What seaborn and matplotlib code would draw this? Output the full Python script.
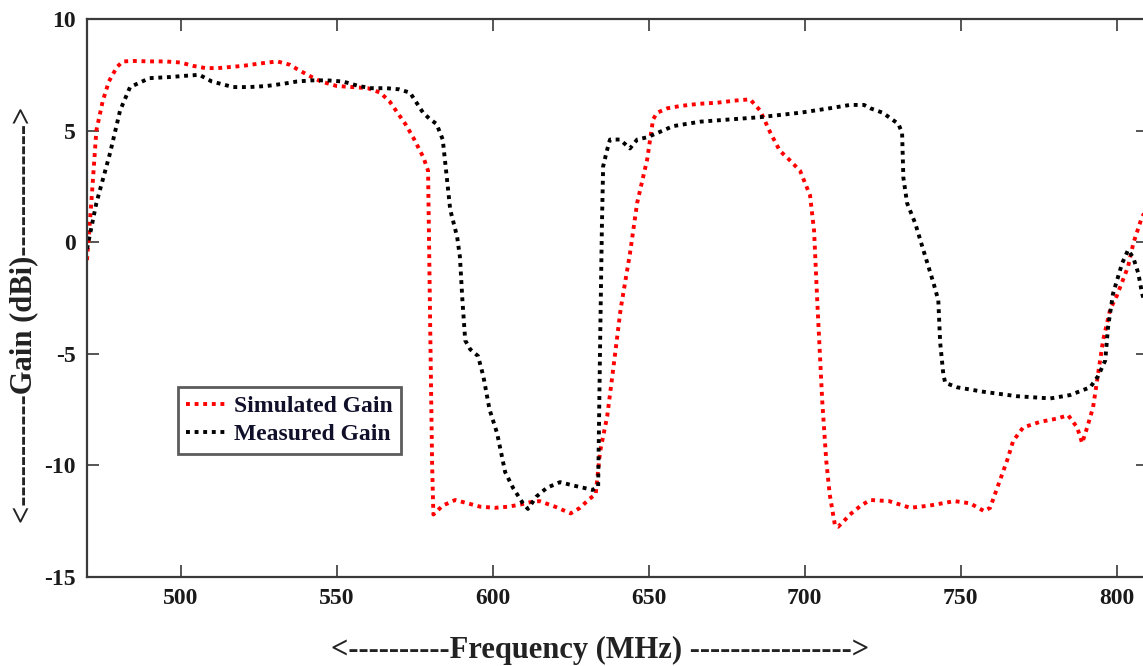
import numpy as np
import pandas as pd
import matplotlib
matplotlib.use("Agg")
import matplotlib.pyplot as plt
import seaborn as sns

# Simulated gain (dBi) versus frequency (MHz)
sim_freq = [470, 471.5, 473, 475, 477, 479.6, 481.5, 485, 490, 495, 500, 504, 508, 512,
            516, 520, 525, 531, 535, 538, 542, 545, 550, 555, 560, 564, 567, 569, 572,
            574.5, 577.8, 579.3, 580, 580.6, 581, 584, 588, 592, 596, 600.8, 605, 609,
            612, 615, 620, 625, 628, 631, 633, 634.4, 636.7, 638.7, 641, 644, 646.3,
            649.5, 651.4, 652.7, 656, 660, 666, 672, 678, 682.5, 685.7, 689, 692, 695,
            698.5, 701.7, 703, 704, 705.6, 706.9, 708, 709.7, 710.7, 712.5, 714.5, 718,
            721, 727, 733.8, 740, 748, 753, 757.5, 759.4, 761.7, 764.9, 766.8, 770,
            775.4, 780.9, 784.4, 787.3, 788.9, 790.5, 792.4, 794, 795.6, 797.9, 800,
            803.6, 805.3, 808, 810]
sim_gain = [-0.8, 2.0, 5.0, 6.3, 7.2, 7.85, 8.1, 8.12, 8.1, 8.1, 8.05, 7.9, 7.8, 7.8,
            7.85, 7.9, 8.0, 8.1, 7.95, 7.7, 7.4, 7.2, 7.0, 6.95, 6.9, 6.7, 6.3, 5.9, 5.3,
            4.7, 3.8, 3.2, -4.0, -10.0, -12.2, -11.8, -11.55, -11.7, -11.85, -11.9,
            -11.85, -11.75, -11.65, -11.6, -11.85, -12.15, -11.9, -11.5, -11.3, -9.4,
            -7.8, -5.6, -3.0, -0.5, 1.76, 3.7, 5.5, 5.8, 6.0, 6.1, 6.2, 6.25, 6.35, 6.4,
            5.9, 4.9, 4.1, 3.7, 3.2, 2.1, 0.5, -2.6, -7.1, -9.8, -11.3, -12.7, -12.75,
            -12.5, -12.2, -11.8, -11.55, -11.6, -11.9, -11.8, -11.6, -11.7, -12.05,
            -11.9, -11.0, -9.76, -8.9, -8.3, -8.05, -7.9, -7.75, -8.3, -9.0, -8.3, -7.4,
            -5.9, -4.4, -3.0, -2.4, -1.1, -0.05, 1.1, 1.6]

# Measured gain (dBi) versus frequency (MHz)
meas_freq = [470, 473, 477.4, 480.6, 483.8, 490, 496.6, 501, 506, 510, 516.8, 522, 527.7,
             533, 537.3, 542, 547, 552, 557, 561, 566, 570, 573.5, 577.7, 580, 582, 584,
             585.3, 586.4, 588.6, 589.5, 590.3, 591.2, 592.8, 595.3, 597, 599, 601.4, 604,
             606.5, 609.7, 611.3, 614, 617.4, 621.6, 625.8, 629, 632, 633.8, 634.4, 635,
             635.4, 636.6, 637.6, 640.8, 644, 646.3, 649.5, 653.7, 657.8, 666.5, 676,
             685.7, 692, 698.5, 708, 714.5, 719, 721, 725, 730, 731.2, 731.6, 732.8,
             735.4, 738, 741.2, 742.8, 743.4, 744.4, 745, 748.8, 757.2, 768, 778.7, 785,
             791.5, 794, 796.3, 797.2, 798.8, 801.7, 803.6, 805.3, 806.9, 808.1, 810]
meas_gain = [-0.3, 1.75, 4.0, 5.9, 6.95, 7.35, 7.4, 7.45, 7.5, 7.2, 6.95, 6.95, 7.0, 7.1,
             7.2, 7.25, 7.25, 7.2, 7.0, 6.9, 6.9, 6.85, 6.7, 5.8, 5.5, 5.3, 4.6, 2.9,
             1.45, 0.25, -0.65, -2.6, -4.4, -4.8, -5.1, -6.0, -7.5, -8.55, -10.3, -11.0,
             -11.7, -11.95, -11.4, -11.0, -10.75, -10.9, -11.0, -11.1, -10.95, -4.8, 0.7,
             3.4, 4.1, 4.6, 4.6, 4.2, 4.6, 4.7, 4.95, 5.2, 5.4, 5.5, 5.6, 5.7, 5.8, 6.0,
             6.15, 6.15, 6.0, 5.8, 5.3, 4.9, 2.9, 1.75, 0.85, -0.35, -1.8, -2.6, -4.5,
             -5.9, -6.3, -6.5, -6.7, -6.9, -7.0, -6.85, -6.5, -6.0, -5.3, -3.8, -2.3,
             -0.95, -0.35, -0.7, -1.4, -2.3, -3.2]

series_names = ["Simulated Gain", "Measured Gain"]
series_colors = ["#ff0000", "#000000"]

x_ticks = [500, 550, 600, 650, 700, 750, 800]
y_ticks = [-15, -10, -5, 0, 5, 10]

sns.set_theme(style="white")
plt.rcParams["font.family"] = ["Liberation Serif", "DejaVu Serif"]
plt.rcParams["font.weight"] = "bold"
plt.rcParams["lines.scale_dashes"] = False

fig = plt.figure(figsize=(11.43, 6.66), dpi=100)
ax = fig.add_axes([87 / 1143, 89 / 666, 1061 / 1143, 558 / 666])

# square dots: on/off lengths in points
dot_style = (0, (2.8, 3.4))

curves = [(sim_freq, sim_gain), (meas_freq, meas_gain)]
for name, color, (fx, gy) in zip(series_names, series_colors, curves):
    df = pd.DataFrame({"freq": fx, "gain": gy})
    sns.lineplot(data=df, x="freq", y="gain", ax=ax, color=color, label=name,
                 estimator=None, sort=False, lw=2.8)

for line in ax.lines:
    line.set_linestyle(dot_style)
    line.set_dash_capstyle("butt")

ax.set_xlim(470, 810)
ax.set_ylim(-15, 10)
ax.set_xticks(x_ticks)
ax.set_yticks(y_ticks)
ax.set_xticklabels([str(v) for v in x_ticks])
ax.set_yticklabels([str(v) for v in y_ticks])

for side in ["left", "right", "top", "bottom"]:
    ax.spines[side].set_visible(True)
    ax.spines[side].set_color("#3a3a3a")
    ax.spines[side].set_linewidth(1.6)

ax.tick_params(axis="both", which="both", direction="in", length=8.5, width=1.4,
               color="#555555", top=True, right=True, bottom=True, left=True,
               labelsize=17, labelcolor="#1a1a1a", pad=8)
for lab in ax.get_xticklabels() + ax.get_yticklabels():
    lab.set_fontweight("bold")

ax.set_xlabel("<----------Frequency (MHz) ---------------->", fontsize=22,
              fontweight="bold", color="#222222", va="center")
ax.xaxis.set_label_coords(0.4835, -0.131)
ax.set_ylabel("<-----------Gain (dBi)------------->", fontsize=22,
              fontweight="bold", color="#222222", va="center")
ax.yaxis.set_label_coords(-0.06, 0.47)

leg = ax.legend(loc="upper left", bbox_to_anchor=(0.0858, 0.3405), borderaxespad=0,
                frameon=True, fancybox=False, shadow=False,
                handlelength=1.7, handletextpad=0.3, labelspacing=0.3,
                borderpad=0.35, prop={"weight": "bold", "size": 17})
leg.get_frame().set_edgecolor("#333333")
leg.get_frame().set_linewidth(2.0)
leg.get_frame().set_facecolor("white")
for handle in leg.get_lines():
    handle.set_linestyle(dot_style)
    handle.set_dash_capstyle("butt")
for txt in leg.get_texts():
    txt.set_color("#10102a")

fig.savefig("out.png", dpi=100)
